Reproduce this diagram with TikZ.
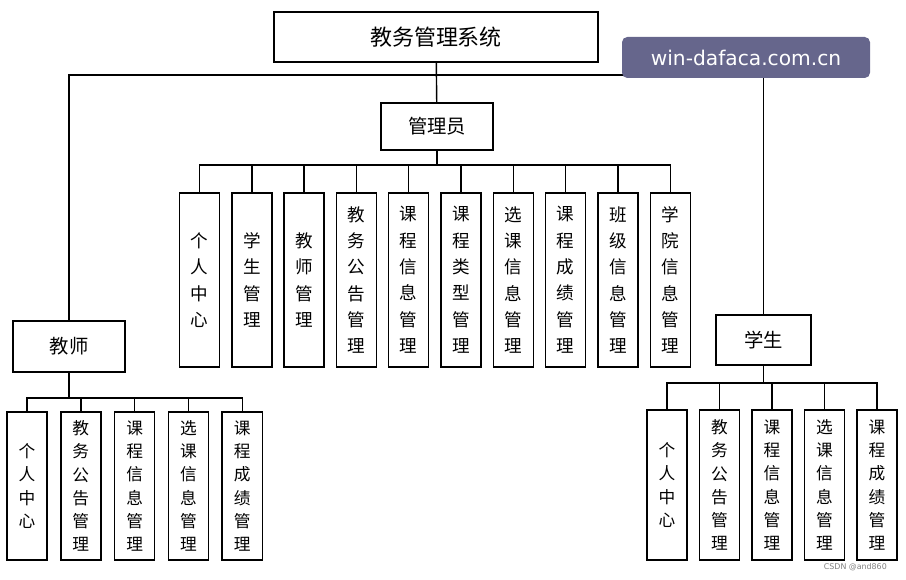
\documentclass[tikz,border=0pt]{standalone}
\usepackage{fontspec}
\setmainfont{Noto Sans CJK SC}
\begin{document}
\begin{tikzpicture}[x=0.02cm,y=-0.02cm,
    box/.style={draw,thick,inner sep=0pt,font=\fontsize{10}{15}\selectfont},
    vbox/.style={box,minimum width=40*0.02cm,align=center},
    lowbox/.style={vbox,font=\fontsize{9.5}{13.2}\selectfont},
    link/.style={thick}]

    \useasboundingbox (0,0) rectangle (906,580);

    \node[box,minimum width=324*0.02cm,minimum height=50*0.02cm,font=\fontsize{12.5}{15}\selectfont] (root) at (436,37) {教务管理系统};
    \node[box,minimum width=112*0.02cm,minimum height=47*0.02cm,font=\fontsize{11}{15}\selectfont] (adm) at (437,126.5) {管理员};
    \node[box,minimum width=112*0.02cm,minimum height=51*0.02cm,font=\fontsize{11}{15}\selectfont] (tea) at (69,346.5) {教师};
    \node[box,minimum width=95*0.02cm,minimum height=50*0.02cm,font=\fontsize{11}{15}\selectfont] (stu) at (763.5,340) {学生};

    \coordinate (top) at (437,75);
    \coordinate (admbus) at (437,165);
    \coordinate (teabus) at (69,398);
    \coordinate (stubus) at (763.5,383);

    % admin modules
    \foreach \t [count=\i] in {个\\人\\中\\心, 学\\生\\管\\理, 教\\师\\管\\理, 教\\务\\公\\告\\管\\理,
        课\\程\\信\\息\\管\\理, 课\\程\\类\\型\\管\\理, 选\\课\\信\\息\\管\\理,
        课\\程\\成\\绩\\管\\理, 班\\级\\信\\息\\管\\理, 学\\院\\信\\息\\管\\理}
        \node[vbox,minimum height=174*0.02cm] (a\i) at ({199.5+52.3*(\i-1)},280) {\t};

    % teacher modules
    \foreach \t [count=\i] in {个\\人\\中\\心, 教\\务\\公\\告\\管\\理, 课\\程\\信\\息\\管\\理,
        选\\课\\信\\息\\管\\理, 课\\程\\成\\绩\\管\\理}
        \node[lowbox,minimum height=148*0.02cm] (t\i) at ({27+53.8*(\i-1)},486) {\t};

    % student modules
    \foreach \t [count=\i] in {个\\人\\中\\心, 教\\务\\公\\告\\管\\理, 课\\程\\信\\息\\管\\理,
        选\\课\\信\\息\\管\\理, 课\\程\\成\\绩\\管\\理}
        \node[lowbox,minimum height=150*0.02cm] (s\i) at ({667+52.5*(\i-1)},485) {\t};

    \draw[link] (root) -- (adm);
    \draw[link] (top) -| (tea.north);
    \draw[link] (top) -| (stu.north);
    \draw[link] (adm) -- (admbus);
    \draw[link] (tea) -- (teabus);
    \draw[link] (stu) -- (stubus);
    \foreach \i in {1,...,10} \draw[link] (admbus) -| (a\i.north);
    \foreach \i in {1,...,5} {
        \draw[link] (teabus) -| (t\i.north);
        \draw[link] (stubus) -| (s\i.north);
    }

    \node[fill=black!75!blue!60,rounded corners=3pt,text=white,minimum width=248*0.02cm,minimum height=41*0.02cm,
        font=\fontspec{DejaVu Sans}\fontsize{11.5}{14}\selectfont] (mark) at (746,57.5) {win-dafaca.com.cn};
    \node[text=gray,font=\fontspec{DejaVu Sans}\fontsize{4.5}{5}\selectfont,anchor=east] (csdn) at (893,567) {CSDN @and860};
\end{tikzpicture}
\end{document}
